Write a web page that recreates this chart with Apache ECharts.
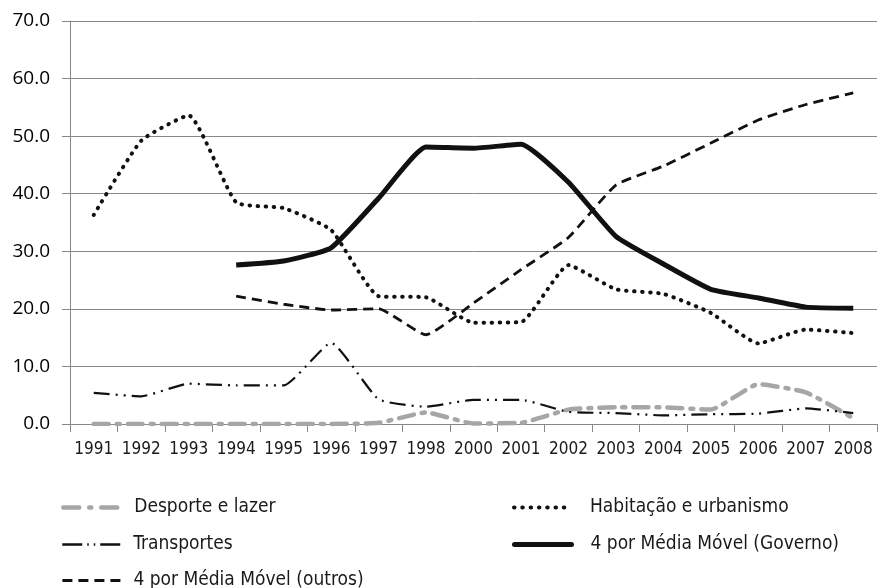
<!DOCTYPE html>
<html><head><meta charset="utf-8">
<script src="https://cdn.jsdelivr.net/npm/echarts@6/dist/echarts.min.js"></script>
<style>html,body{margin:0;padding:0;background:#fff}#c{width:879px;height:588px}</style>
</head><body><div id="c"></div>
<script>
const categories = ['1991','1992','1993','1994','1995','1996','1997','1998','2000','2001','2002','2003','2004','2005','2006','2007','2008'];
const desporte    = [0,0,0,0,0,0,0.2,2.0,0.1,0.2,2.5,2.9,2.9,2.5,6.9,5.5,1.0];
const transportes = [5.4,4.8,7.0,6.7,6.7,14.1,4.3,3.0,4.2,4.2,2.1,1.9,1.5,1.7,1.8,2.7,1.9];
const habitacao   = [36.3,49.2,53.6,38.5,37.5,33.7,22.2,22.0,17.6,17.7,27.6,23.4,22.6,19.3,14.0,16.4,15.8];
const governo     = [null,null,null,27.6,28.3,30.6,39.2,48.1,47.9,48.6,42.0,32.6,27.8,23.4,21.9,20.3,20.1];
const outros      = [null,null,null,22.2,20.8,19.8,20.0,15.5,21.0,26.8,32.4,41.5,44.8,48.8,52.8,55.5,57.5];
const yTicks = {min:0, max:70, interval:10};
const seriesNames = ['Desporte e lazer','Transportes','4 por Média Móvel (outros)','Habitação e urbanismo','4 por Média Móvel (Governo)'];

const styles = [
  {color:'#a6a6a6', width:4.5, type:[15,8,3,8], cap:'round'},
  {color:'#111', width:2.2, type:[16,6,2,6,2,6], cap:'butt'},
  {color:'#111', width:2.8, type:[10,6], cap:'butt'},
  {color:'#111', width:4, type:[0.5,7.5], cap:'round'},
  {color:'#111', width:5, type:'solid', cap:'butt'}
];
const legendStyles = [
  {color:'#a6a6a6', width:4.5, type:[16,10,2,10], cap:'round'},
  {color:'#111', width:2.5, type:[20,5,1.5,5,1.5,5], cap:'butt'},
  {color:'#111', width:2.8, type:[10,6], cap:'butt'},
  {color:'#111', width:4, type:[0.5,7.8], cap:'round'},
  {color:'#111', width:5, type:'solid', cap:'round'}
];

const chart = echarts.init(document.getElementById('c'), null, {renderer:'canvas'});
const narrow = '"Liberation Sans Narrow","DejaVu Sans Condensed","Arial Narrow","Open Sans",sans-serif';
function leg(i, left, top, w, pad){
  return {orient:'horizontal', left:left, top:top, itemWidth:w, itemHeight:14, padding:0,
    itemStyle:{opacity:0},
    lineStyle:legendStyles[i],
    textStyle:{fontFamily: narrow, fontSize: 19, color:'#1a1a1a', padding:[0,0,0,pad]},
    data:[seriesNames[i]]};
}
chart.setOption({
  animation:false,
  backgroundColor:'#fff',
  grid:{left:70, right:2, top:21, bottom:164, containLabel:false},
  xAxis:{type:'category', data:categories, boundaryGap:true,
    axisLine:{lineStyle:{color:'#888', width:1}},
    axisTick:{show:true, alignWithLabel:false, length:8, lineStyle:{color:'#888'}},
    axisLabel:{fontFamily:narrow, fontSize:17, color:'#1a1a1a', margin:17, interval:0}
  },
  yAxis:{type:'value', min:yTicks.min, max:yTicks.max, interval:yTicks.interval,
    axisLine:{show:true, lineStyle:{color:'#888', width:1}},
    axisTick:{show:true, length:8, lineStyle:{color:'#888'}},
    splitLine:{lineStyle:{color:'#888', width:1}},
    axisLabel:{fontFamily:'"Open Sans",sans-serif', fontSize:19, color:'#000', margin:20,
      formatter:v=>v.toFixed(1)}
  },
  legend:[
    leg(0, 61, 498, 59, 7),
    leg(1, 61, 535, 59, 7),
    leg(2, 61, 571, 59, 7),
    leg(3, 512, 498, 57, 14),
    leg(4, 512, 535, 57, 14)
  ],
  series:[
    {name:seriesNames[0], type:'line', data:desporte, symbol:'none', smooth:0.15, z:3,
     lineStyle:styles[0], itemStyle:{color:styles[0].color}},
    {name:seriesNames[1], type:'line', data:transportes, symbol:'none', smooth:0.15, z:4,
     lineStyle:styles[1], itemStyle:{color:'#111'}},
    {name:seriesNames[2], type:'line', data:outros, symbol:'none', smooth:0.15, z:4,
     lineStyle:styles[2], itemStyle:{color:'#111'}},
    {name:seriesNames[3], type:'line', data:habitacao, symbol:'none', smooth:0.15, z:5,
     lineStyle:styles[3], itemStyle:{color:'#111'}},
    {name:seriesNames[4], type:'line', data:governo, symbol:'none', smooth:0.15, z:6,
     lineStyle:styles[4], itemStyle:{color:'#111'}}
  ]
});
</script></body></html>
